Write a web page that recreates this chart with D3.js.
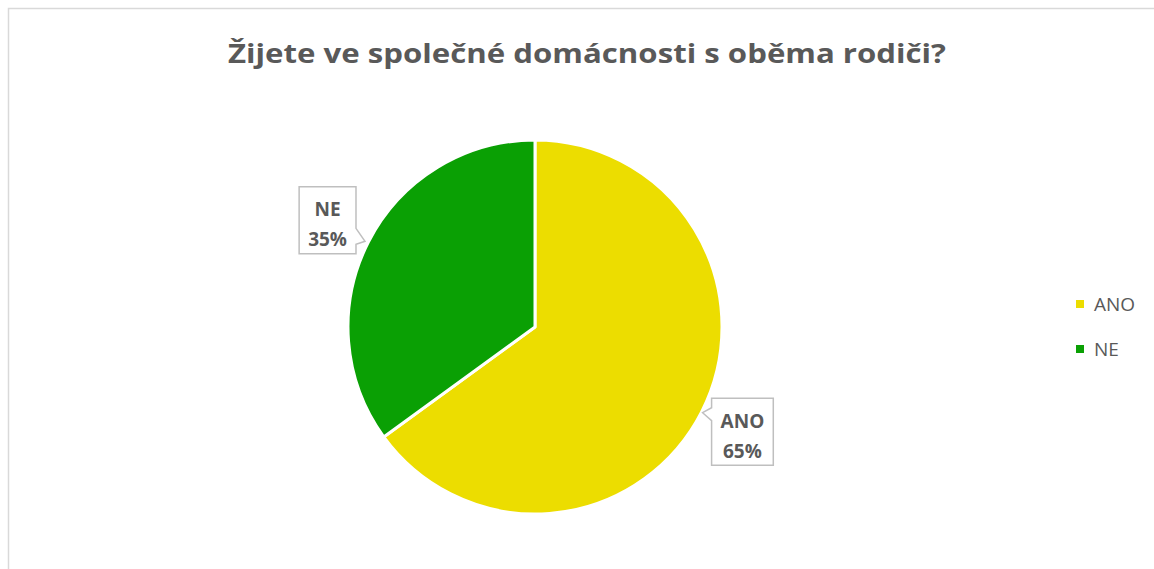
<!DOCTYPE html>
<html>
<head>
<meta charset="utf-8">
<script src="https://cdn.jsdelivr.net/npm/d3@7"></script>
<style>
  body { margin: 0; background: #fff; }
  svg { display: block; }
</style>
</head>
<body>
<svg id="chart" width="1154" height="569"></svg>
<script>
var categories = ['ANO', 'NE'];
var values = [65, 35];
var colors = ['#ECDD00', '#0AA004'];
var title = 'Žijete ve společné domácnosti s oběma rodiči?';

var svg = d3.select('#chart'),
    cx = 535,
    cy = 327,
    radius = 187,
    textColor = '#595959',
    font = '"Open Sans", "Noto Sans", sans-serif';

// chart frame (runs off the right and bottom edge like the source)
svg.append('rect')
    .attr('x', 8.5).attr('y', 8.5)
    .attr('width', 1200).attr('height', 600)
    .attr('fill', '#fff')
    .attr('stroke', '#D9D9D9')
    .attr('stroke-width', 1.5);

svg.append('text')
    .attr('x', 587)
    .attr('y', 63)
    .attr('text-anchor', 'middle')
    .attr('font-family', font)
    .attr('font-size', '27px')
    .attr('font-weight', 'bold')
    .attr('fill', textColor)
    .attr('textLength', 718)
    .attr('lengthAdjust', 'spacingAndGlyphs')
    .text(title);

var data = categories.map(function(c, i) {
    return { name: c, value: values[i], color: colors[i] };
});

var total = d3.sum(values);

var pie = d3.pie()
    .sort(null)
    .value(function(d) { return d.value; });

var arc = d3.arc().innerRadius(0).outerRadius(radius);
var labelArc = d3.arc().innerRadius(radius * 1.245).outerRadius(radius * 1.245);

var g = svg.append('g').attr('transform', 'translate(' + cx + ',' + cy + ')');

g.selectAll('path.slice')
    .data(pie(data))
    .enter().append('path')
    .attr('class', 'slice')
    .attr('d', arc)
    .attr('fill', function(d) { return d.data.color; })
    .attr('stroke', '#fff')
    .attr('stroke-width', 3)
    .attr('stroke-linejoin', 'round');

// callout labels
pie(data).forEach(function(d) {
    var c = labelArc.centroid(d),
        lx = c[0],
        ly = c[1],
        lg = g.append('g');

    var box = lg.append('path');

    var t1 = lg.append('text')
        .attr('x', lx).attr('y', ly - 5)
        .attr('text-anchor', 'middle')
        .attr('font-family', font)
        .attr('font-size', '19px')
        .attr('font-weight', 'bold')
        .attr('fill', textColor)
        .text(d.data.name);

    var t2 = lg.append('text')
        .attr('x', lx).attr('y', ly + 25)
        .attr('text-anchor', 'middle')
        .attr('font-family', font)
        .attr('font-size', '19px')
        .attr('font-weight', 'bold')
        .attr('fill', textColor)
        .text(Math.round(d.data.value / total * 100) + '%');

    var w = Math.max(t1.node().getComputedTextLength(), t2.node().getComputedTextLength()) + 18,
        h = 67,
        x0 = lx - w / 2, x1 = lx + w / 2,
        y0 = ly - h / 2 - 1, y1 = ly + h / 2 - 1,
        p;

    // notch on the side facing the pie centre
    if (lx < 0) {
        p = [[x0, y0], [x1, y0], [x1, ly + 7], [x1 + 9, ly + 20], [x1, ly + 23], [x1, y1], [x0, y1]];
    } else {
        p = [[x0, y0], [x1, y0], [x1, y1], [x0, y1], [x0, ly - 12], [x0 - 9, ly - 20], [x0, ly - 25]];
    }
    box.attr('d', d3.line()(p) + 'Z')
        .attr('fill', '#fff')
        .attr('stroke', '#BFBFBF')
        .attr('stroke-width', 1.5);
});

// legend
var legend = svg.append('g').attr('transform', 'translate(1076,300)');
var items = legend.selectAll('g')
    .data(data)
    .enter().append('g')
    .attr('transform', function(d, i) { return 'translate(0,' + i * 45 + ')'; });

items.append('rect')
    .attr('width', 8).attr('height', 8)
    .attr('fill', function(d) { return d.color; });

items.append('text')
    .attr('x', 18).attr('y', 11)
    .attr('font-family', font)
    .attr('font-size', '19px')
    .attr('fill', textColor)
    .text(function(d) { return d.name; });
</script>
</body>
</html>
